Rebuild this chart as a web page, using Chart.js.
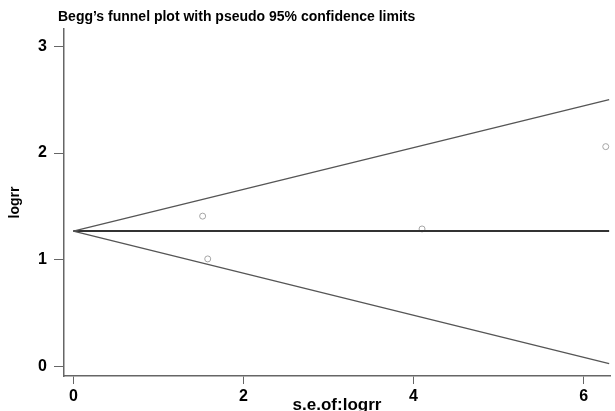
<!DOCTYPE html>
<html lang="en">
<head>
  <meta charset="UTF-8">
  <title>Begg's funnel plot</title>
  <script src="https://cdn.jsdelivr.net/npm/chart.js"></script>
  <style>
    html, body {
      margin: 0;
      padding: 0;
      background: #ffffff;
    }
    #wrap {
      width: 615px;
      height: 411px;
    }
  </style>
</head>
<body>
  <div id="wrap"><canvas id="funnel"></canvas></div>

  <script>
    // studies: standard error of log RR and log RR
    const seLogrr = [1.52, 1.58, 4.10, 6.26];
    const logrr = [1.41, 1.01, 1.29, 2.06];

    // pooled estimate and pseudo 95% limits at the ends of the funnel
    const funnelSe = [0, 6.30];
    const pooledLine = [1.27, 1.27];
    const upperLimit = [1.27, 2.50];
    const lowerLimit = [1.27, 0.03];

    const xTicks = [0, 2, 4, 6];
    const yTicks = [0, 1, 2, 3];

    const font = 'Liberation Sans, Arial, sans-serif';

    function pairs(xs, ys) {
      return xs.map((x, i) => ({ x: x, y: ys[i] }));
    }

    const lineStyle = (color, width) => ({
      showLine: true,
      borderColor: color,
      borderWidth: width,
      pointRadius: 0,
      fill: false
    });

    const titlePlugin = {
      id: 'plotTitle',
      afterDraw(chart) {
        const ctx = chart.ctx;
        ctx.save();
        ctx.fillStyle = '#000';
        ctx.font = 'bold 14px ' + font;
        ctx.textBaseline = 'middle';
        ctx.fillText("Begg\u2019s funnel plot with pseudo 95% confidence limits", 58, 17);
        ctx.restore();
      }
    };

    new Chart(document.getElementById('funnel'), {
      type: 'scatter',
      data: {
        datasets: [
          Object.assign({ data: pairs(funnelSe, upperLimit) }, lineStyle('#555', 1.3)),
          Object.assign({ data: pairs(funnelSe, lowerLimit) }, lineStyle('#555', 1.3)),
          Object.assign({ data: pairs(funnelSe, pooledLine) }, lineStyle('#333', 2)),
          {
            data: pairs(seLogrr, logrr),
            pointRadius: 3,
            pointBorderWidth: 1,
            pointBorderColor: '#a5a5a5',
            pointBackgroundColor: 'rgba(0,0,0,0)',
            showLine: false
          }
        ]
      },
      options: {
        responsive: true,
        maintainAspectRatio: false,
        animation: false,
        layout: { padding: { top: 29, right: 1, left: 0, bottom: 0 } },
        plugins: {
          legend: { display: false },
          tooltip: { enabled: false }
        },
        scales: {
          x: {
            type: 'linear',
            min: -0.11,
            max: 6.31,
            afterBuildTicks: s => { s.ticks = xTicks.map(v => ({ value: v })); },
            afterFit: s => { s.height = 35; },
            border: { color: '#666', width: 1.5 },
            grid: { drawOnChartArea: false, drawTicks: true, tickLength: 8, color: '#666', lineWidth: 1 },
            ticks: { color: '#000', padding: 3, font: { family: font, size: 16, weight: 'bold' } },
            title: {
              display: true,
              text: 's.e.of:logrr',
              color: '#000',
              padding: { top: 0, bottom: -5 },
              font: { family: font, size: 17, weight: 'bold' }
            }
          },
          y: {
            type: 'linear',
            min: -0.085,
            max: 3.16,
            afterBuildTicks: s => { s.ticks = yTicks.map(v => ({ value: v })); },
            afterFit: s => { s.width = 64; },
            border: { color: '#666', width: 1.5 },
            grid: { drawOnChartArea: false, drawTicks: true, tickLength: 10, color: '#666', lineWidth: 1 },
            ticks: { color: '#000', padding: 7, font: { family: font, size: 16, weight: 'bold' } },
            title: {
              display: true,
              text: 'logrr',
              color: '#000',
              padding: { top: 7, bottom: 0 },
              font: { family: font, size: 14, weight: 'bold' }
            }
          }
        }
      },
      plugins: [titlePlugin]
    });
  </script>
</body>
</html>
